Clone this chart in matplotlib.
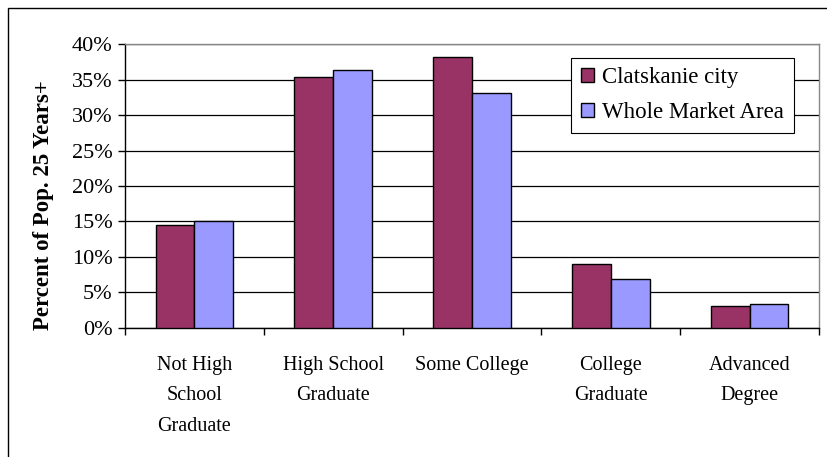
import matplotlib
matplotlib.use("Agg")
import matplotlib.pyplot as plt
import numpy as np
from matplotlib.patches import Rectangle
from matplotlib.ticker import MultipleLocator, PercentFormatter

categories = ["Not High\nSchool\nGraduate", "High School\nGraduate", "Some College",
              "College\nGraduate", "Advanced\nDegree"]
clatskanie = [14.5, 35.3, 38.1, 9.0, 3.1]
whole_market = [15.1, 36.3, 33.1, 6.9, 3.4]
series_names = ["Clatskanie city", "Whole Market Area"]

plt.rcParams["font.family"] = ["Liberation Serif", "DejaVu Serif"]

fig = plt.figure(figsize=(8.28, 4.57), dpi=100)
ax = fig.add_axes([0.151, 0.2823, 0.838, 0.6214])

x = np.arange(len(categories))
w = 0.28
ax.bar(x - w / 2, clatskanie, w, color="#993366", edgecolor="black", linewidth=1,
       label=series_names[0], zorder=3)
ax.bar(x + w / 2, whole_market, w, color="#9999FF", edgecolor="black", linewidth=1,
       label=series_names[1], zorder=3)

ax.set_xlim(-0.5, len(categories) - 0.5)
ax.set_ylim(0, 40)
ax.yaxis.set_major_locator(MultipleLocator(5))
ax.yaxis.set_major_formatter(PercentFormatter(decimals=0))
ax.grid(axis="y", color="black", linewidth=0.9, zorder=0)

# category labels sit between the boundary ticks
ax.set_xticks(x)
ax.set_xticklabels(categories, fontsize=14.5, linespacing=1.83)
ax.tick_params(axis="x", length=0, pad=20)
ax.set_xticks(np.arange(len(categories) + 1) - 0.5, minor=True)
ax.tick_params(axis="x", which="minor", length=5, width=1, direction="out")
ax.tick_params(axis="y", length=5, width=1, pad=4, labelsize=16)

for side in ("left", "bottom"):
    ax.spines[side].set_color("black")
    ax.spines[side].set_linewidth(1)
for side in ("top", "right"):
    ax.spines[side].set_color("#888888")
    ax.spines[side].set_linewidth(1)

ax.set_ylabel("Percent of Pop. 25 Years+", fontsize=16.5, fontweight="bold")
ax.yaxis.set_label_coords(-0.102, 0.433)

leg = ax.legend(loc="upper right", bbox_to_anchor=(0.964, 0.952), borderaxespad=0,
                fontsize=16.5, frameon=True, fancybox=False, edgecolor="black",
                framealpha=1, handlelength=0.6, handleheight=0.6, handletextpad=0.35,
                labelspacing=0.6, borderpad=0.42)
leg.get_frame().set_linewidth(0.8)
leg.set_zorder(5)

# outer chart border
fig.patches.append(Rectangle((8 / 828, -0.05), 1.0, 1.05 - 8 / 457, transform=fig.transFigure,
                             fill=False, edgecolor="black", linewidth=1))

fig.savefig("out.png", dpi=100)
